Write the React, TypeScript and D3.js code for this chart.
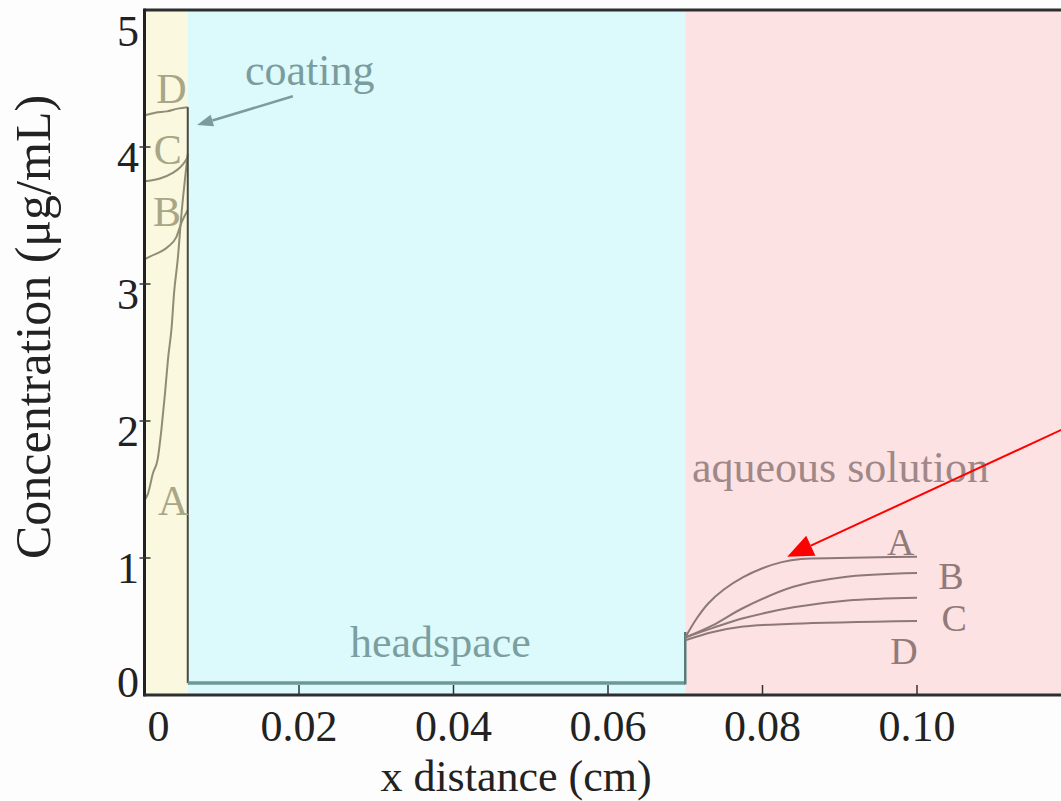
import { useRef, useEffect } from 'react';
import * as d3 from 'd3';

// axis ticks
const X_TICKS = [0, 0.02, 0.04, 0.06, 0.08, 0.10];
const X_TICK_LABELS = ["0", "0.02", "0.04", "0.06", "0.08", "0.10"];
const Y_TICKS = [0, 1, 2, 3, 4, 5];

// layer boundaries (cm)
const COATING_END = 0.0056;
const AQUEOUS_START = 0.07;
const X_MAX = 0.12;

// concentration profiles inside the coating, [x, conc]
const COATING_A = [[0, 1.42], [0.00045, 1.47], [0.0011, 1.62], [0.0017, 1.72], [0.00223, 1.96], [0.00265, 2.2], [0.00304, 2.45], [0.00352, 2.69], [0.00382, 2.93], [0.0043, 3.18], [0.0048, 3.52], [0.00546, 3.88], [0.0056, 3.95]];
const COATING_B = [[0, 3.18], [0.0007, 3.2], [0.003, 3.27], [0.0041, 3.34], [0.0048, 3.45], [0.0056, 3.54]];
const COATING_C = [[0, 3.75], [0.002, 3.77], [0.0036, 3.81], [0.0046, 3.85], [0.0052, 3.89], [0.0056, 3.93]];
const COATING_D = [[0, 4.23], [0.0014, 4.25], [0.0029, 4.26], [0.0043, 4.28], [0.0056, 4.29]];

// headspace level
const HEADSPACE = [[COATING_END, 0.088], [AQUEOUS_START, 0.088]];

// concentration profiles in the aqueous solution
const AQUEOUS_A = [[0.07, 0.42], [0.0715, 0.56], [0.073, 0.67], [0.075, 0.77], [0.0775, 0.86], [0.08, 0.925], [0.0825, 0.97], [0.085, 0.993], [0.09, 1.0], [0.095, 1.005], [0.1, 1.01]];
const AQUEOUS_B = [[0.07, 0.42], [0.0736, 0.51], [0.0775, 0.635], [0.084, 0.79], [0.0904, 0.86], [0.1, 0.89]];
const AQUEOUS_C = [[0.07, 0.42], [0.0736, 0.49], [0.0775, 0.56], [0.084, 0.64], [0.091, 0.69], [0.1, 0.71]];
const AQUEOUS_D = [[0.07, 0.4], [0.0736, 0.46], [0.0775, 0.5], [0.084, 0.52], [0.1, 0.54]];

// curve letters, [x, conc, label]
const COATING_LABELS = [[0.0035, 4.43, "D"], [0.003, 3.98, "C"], [0.0029, 3.53, "B"], [0.0037, 1.42, "A"]];
const AQUEOUS_LABELS = [[0.0979, 1.12, "A"], [0.1044, 0.872, "B"], [0.1048, 0.562, "C"], [0.0983, 0.32, "D"]];

const FONT = '"Liberation Serif", "Times New Roman", serif';

function App() {
  const svgRef = useRef(null);

  useEffect(() => {
    const svg = d3.select(svgRef.current);
    svg.selectAll("*").remove();

    const W = 1061, H = 801;
    svg.attr("width", W).attr("height", H);

    const x = d3.scaleLinear().domain([0, X_MAX]).range([144.5, 144.5 + X_MAX * 7725]);
    const y = d3.scaleLinear().domain([0, 5]).range([695, 10]);

    svg.append("rect").attr("width", W).attr("height", H).attr("fill", "#fdfdfd");

    // layer backgrounds
    const regions = [
      { x0: 0, x1: COATING_END, fill: "#faf8df" },
      { x0: COATING_END, x1: AQUEOUS_START, fill: "#dcf9fc" },
      { x0: AQUEOUS_START, x1: X_MAX, fill: "#fce2e2" }
    ];
    svg.selectAll("rect.region")
      .data(regions)
      .enter()
      .append("rect")
      .attr("x", d => x(d.x0))
      .attr("y", y(5))
      .attr("width", d => x(d.x1) - x(d.x0))
      .attr("height", y(0) - y(5))
      .attr("fill", d => d.fill);

    const line = d3.line().x(d => x(d[0])).y(d => y(d[1])).curve(d3.curveMonotoneX);
    const smooth = d3.line().x(d => x(d[0])).y(d => y(d[1])).curve(d3.curveCatmullRom.alpha(0.5));

    // coating curves
    [COATING_A, COATING_B, COATING_C, COATING_D].forEach(pts => {
      svg.append("path").attr("d", line(pts))
        .attr("fill", "none").attr("stroke", "#8f8d74").attr("stroke-width", 2);
    });

    // coating / headspace interface
    svg.append("line")
      .attr("x1", x(COATING_END)).attr("x2", x(COATING_END))
      .attr("y1", y(COATING_D[COATING_D.length - 1][1])).attr("y2", y(HEADSPACE[0][1]))
      .attr("stroke", "#4a4a44").attr("stroke-width", 2);

    // headspace
    svg.append("path").attr("d", d3.line().x(d => x(d[0])).y(d => y(d[1]))(HEADSPACE))
      .attr("fill", "none").attr("stroke", "#6e9797").attr("stroke-width", 3.5);

    // headspace / aqueous interface
    svg.append("line")
      .attr("x1", x(AQUEOUS_START)).attr("x2", x(AQUEOUS_START))
      .attr("y1", y(HEADSPACE[0][1]) + 1.5).attr("y2", y(0.46))
      .attr("stroke", "#557c7c").attr("stroke-width", 2.5);

    // aqueous curves
    [AQUEOUS_A, AQUEOUS_B, AQUEOUS_C, AQUEOUS_D].forEach(pts => {
      svg.append("path").attr("d", smooth(pts))
        .attr("fill", "none").attr("stroke", "#8c7878").attr("stroke-width", 2);
    });

    // frame
    svg.append("line").attr("x1", x(0)).attr("x2", W).attr("y1", y(5)).attr("y2", y(5))
      .attr("stroke", "#2e2e2e").attr("stroke-width", 3);
    svg.append("line").attr("x1", x(0)).attr("x2", x(0)).attr("y1", y(5) - 1.5).attr("y2", y(0) + 1.5)
      .attr("stroke", "#222").attr("stroke-width", 3);
    svg.append("line").attr("x1", x(0)).attr("x2", W).attr("y1", y(0)).attr("y2", y(0))
      .attr("stroke", "#2e2e2e").attr("stroke-width", 3);

    // x ticks + labels
    svg.selectAll("line.xtick")
      .data(X_TICKS.filter(d => d > 0))
      .enter()
      .append("line")
      .attr("x1", d => x(d)).attr("x2", d => x(d))
      .attr("y1", y(0)).attr("y2", y(0) - 10)
      .attr("stroke", "#333").attr("stroke-width", 1.5);
    svg.selectAll("text.xlabel")
      .data(X_TICKS)
      .enter()
      .append("text")
      .attr("x", d => x(d) + (d === 0 ? 14 : 0))
      .attr("y", y(0) + 46)
      .attr("text-anchor", "middle")
      .style("font-family", FONT).style("font-size", "44px").style("fill", "#222")
      .text((d, i) => X_TICK_LABELS[i]);

    // y ticks + labels
    svg.selectAll("line.ytick")
      .data(Y_TICKS.filter(d => d > 0 && d < 5))
      .enter()
      .append("line")
      .attr("x1", x(0) - 5).attr("x2", x(0) + 6)
      .attr("y1", d => y(d)).attr("y2", d => y(d))
      .attr("stroke", "#333").attr("stroke-width", 1.5);
    svg.selectAll("text.ylabel")
      .data(Y_TICKS)
      .enter()
      .append("text")
      .attr("x", 139)
      .attr("y", d => Math.max(Math.min(y(d) + 25, y(0) + 2), y(5) + 36))
      .attr("text-anchor", "end")
      .style("font-family", FONT).style("font-size", "44px").style("fill", "#222")
      .text(d => d);

    // axis titles
    svg.append("text")
      .attr("x", 516).attr("y", 791)
      .attr("text-anchor", "middle")
      .style("font-family", FONT).style("font-size", "44px").style("fill", "#222")
      .text("x distance (cm)");
    svg.append("text")
      .attr("transform", "translate(50,327) rotate(-90)")
      .attr("text-anchor", "middle")
      .style("font-family", FONT).style("font-size", "50px").style("fill", "#222")
      .text("Concentration (μg/mL)");

    // curve letters
    svg.selectAll("text.clab")
      .data(COATING_LABELS)
      .enter()
      .append("text")
      .attr("x", d => x(d[0])).attr("y", d => y(d[1]))
      .attr("dy", "0.35em").attr("text-anchor", "middle")
      .style("font-family", FONT).style("font-size", "42px").style("fill", "#a8a687")
      .text(d => d[2]);
    svg.selectAll("text.alab")
      .data(AQUEOUS_LABELS)
      .enter()
      .append("text")
      .attr("x", d => x(d[0])).attr("y", d => y(d[1]))
      .attr("dy", "0.35em").attr("text-anchor", "middle")
      .style("font-family", FONT).style("font-size", "38px").style("fill", "#927a7a")
      .text(d => d[2]);

    // region names
    svg.append("text").attr("x", 245).attr("y", 85)
      .style("font-family", FONT).style("font-size", "44px").style("fill", "#7a9c9c")
      .text("coating");
    svg.append("text").attr("x", 350).attr("y", 657)
      .style("font-family", FONT).style("font-size", "44px").style("fill", "#7b9f9f")
      .text("headspace");
    svg.append("text").attr("x", 692).attr("y", 482)
      .style("font-family", FONT).style("font-size", "44px").style("fill", "#a08888")
      .text("aqueous solution");

    // arrows
    const drawArrow = (from, to, color, width, headLen, headW) => {
      const x1 = x(from[0]), y1 = y(from[1]), x2 = x(to[0]), y2 = y(to[1]);
      const ang = Math.atan2(y2 - y1, x2 - x1);
      const bx = x2 - headLen * Math.cos(ang), by = y2 - headLen * Math.sin(ang);
      svg.append("line").attr("x1", x1).attr("y1", y1).attr("x2", bx).attr("y2", by)
        .attr("stroke", color).attr("stroke-width", width);
      const px = Math.sin(ang) * headW / 2, py = -Math.cos(ang) * headW / 2;
      svg.append("path")
        .attr("d", `M${x2},${y2}L${bx + px},${by + py}L${bx - px},${by - py}Z`)
        .attr("fill", color);
    };
    drawArrow([0.0192, 4.37], [0.0068, 4.16], "#7a9c9c", 2.5, 16, 12);
    drawArrow([0.125, 2.1], [0.0832, 1.01], "#ff0000", 2, 26, 22);
  }, []);

  return <svg ref={svgRef} style={{ position: 'absolute', left: 0, top: 0, display: 'block' }}></svg>;
}

export default App;
